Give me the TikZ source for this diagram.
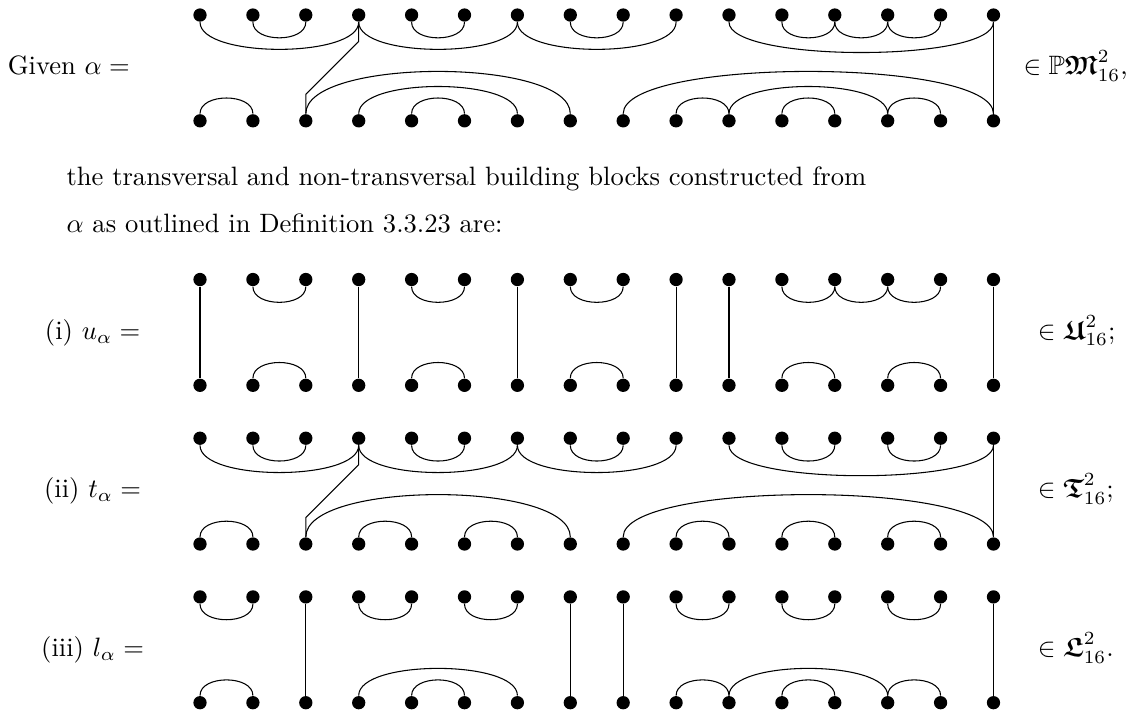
\documentclass[tikz,border=0pt]{standalone}
\usepackage{amsmath,amssymb,bm}
\usepackage{tikz}
\tikzset{
  dot/.style={circle,fill=black,inner sep=0pt,minimum size=5pt},
  txt/.style={inner sep=0pt,anchor=base west},
  lab/.style={inner sep=0pt,anchor=base}
}

\begin{document}
\begin{tikzpicture}[x=0.7cm,y=0.7cm]
\useasboundingbox (-2.781,0.284) rectangle (18.543,-13.176);
% the four diagrams: alpha, u, t, l
\foreach \r/\y in {a/0,u/-5,t/-8,l/-11}
  \foreach \i in {1,...,16}{
    \node[dot] (\r t\i) at (\i,\y) {};
    \node[dot] (\r b\i) at (\i,\y-2) {};
  }
% text
\node[txt] (given) at (-2.643,-1.1255) {Given $\alpha =$};
\node[txt] (alphain) at (16.56,-1.1255) {$\in \mathbb{P}\bm{\mathfrak{M}}^2_{16}$,};
\node[txt] (line1) at (-1.533,-3.214) {the transversal and non-transversal building blocks constructed from};
\node[txt] (line2) at (-1.533,-4.102) {$\alpha$ as outlined in Definition 3.3.23 are:};
\node[lab] (ulab) at (-1.03,-6.1255) {(i) $u_\alpha =$};
\node[txt] (uin) at (16.83,-6.1255) {$\in \bm{\mathfrak{U}}^2_{16}$;};
\node[lab] (tlab) at (-1.03,-9.1255) {(ii) $t_\alpha =$};
\node[txt] (tin) at (16.83,-9.1255) {$\in \bm{\mathfrak{T}}^2_{16}$;};
\node[lab] (llab) at (-1.03,-12.1255) {(iii) $l_\alpha =$};
\node[txt] (lin) at (16.83,-12.1255) {$\in \bm{\mathfrak{L}}^2_{16}$.};

% alpha
\foreach \p/\q in {2/3,5/6,8/9,12/13,13/14,14/15}
  \draw (at\p) .. controls +(0,-0.53) and +(0,-0.53) .. (at\q);
\foreach \p/\q in {1/4,4/7,7/10}
  \draw (at\p) .. controls +(0,-0.82) and +(0,-0.82) .. (at\q);
\draw (at11) .. controls +(0,-0.9) and +(0,-0.9) .. (at16);
\foreach \p/\q in {1/2,5/6,10/11,12/13,14/15}
  \draw (ab\p) .. controls +(0,0.53) and +(0,0.53) .. (ab\q);
\foreach \p/\q in {4/7,11/14}
  \draw (ab\p) .. controls +(0,0.82) and +(0,0.82) .. (ab\q);
\foreach \p/\q in {3/8,9/16}
  \draw (ab\p) .. controls +(0,1.2) and +(0,1.2) .. (ab\q);
\draw (at16) -- (ab16);
\draw (at4) -- ++(0,-0.5) -- ++(-1,-1) -- (ab3);

% u
\foreach \p/\q in {2/3,5/6,8/9,12/13,13/14,14/15}
  \draw (ut\p) .. controls +(0,-0.53) and +(0,-0.53) .. (ut\q);
\foreach \p/\q in {2/3,5/6,8/9,12/13,14/15}
  \draw (ub\p) .. controls +(0,0.53) and +(0,0.53) .. (ub\q);
\foreach \i in {1,4,7,10,11,16}
  \draw (ut\i) -- (ub\i);

% t
\foreach \p/\q in {2/3,5/6,8/9,12/13,14/15}
  \draw (tt\p) .. controls +(0,-0.53) and +(0,-0.53) .. (tt\q);
\foreach \p/\q in {1/4,4/7,7/10}
  \draw (tt\p) .. controls +(0,-0.82) and +(0,-0.82) .. (tt\q);
\draw (tt11) .. controls +(0,-0.9) and +(0,-0.9) .. (tt16);
\foreach \p/\q in {1/2,4/5,6/7,10/11,12/13,14/15}
  \draw (tb\p) .. controls +(0,0.53) and +(0,0.53) .. (tb\q);
\foreach \p/\q in {3/8,9/16}
  \draw (tb\p) .. controls +(0,1.2) and +(0,1.2) .. (tb\q);
\draw (tt16) -- (tb16);
\draw (tt4) -- ++(0,-0.5) -- ++(-1,-1) -- (tb3);

% l
\foreach \p/\q in {1/2,4/5,6/7,10/11,12/13,14/15}
  \draw (lt\p) .. controls +(0,-0.53) and +(0,-0.53) .. (lt\q);
\foreach \p/\q in {1/2,5/6,10/11,12/13,14/15}
  \draw (lb\p) .. controls +(0,0.53) and +(0,0.53) .. (lb\q);
\foreach \p/\q in {4/7,11/14}
  \draw (lb\p) .. controls +(0,0.82) and +(0,0.82) .. (lb\q);
\foreach \i in {3,8,9,16}
  \draw (lt\i) -- (lb\i);
\end{tikzpicture}
\end{document}
